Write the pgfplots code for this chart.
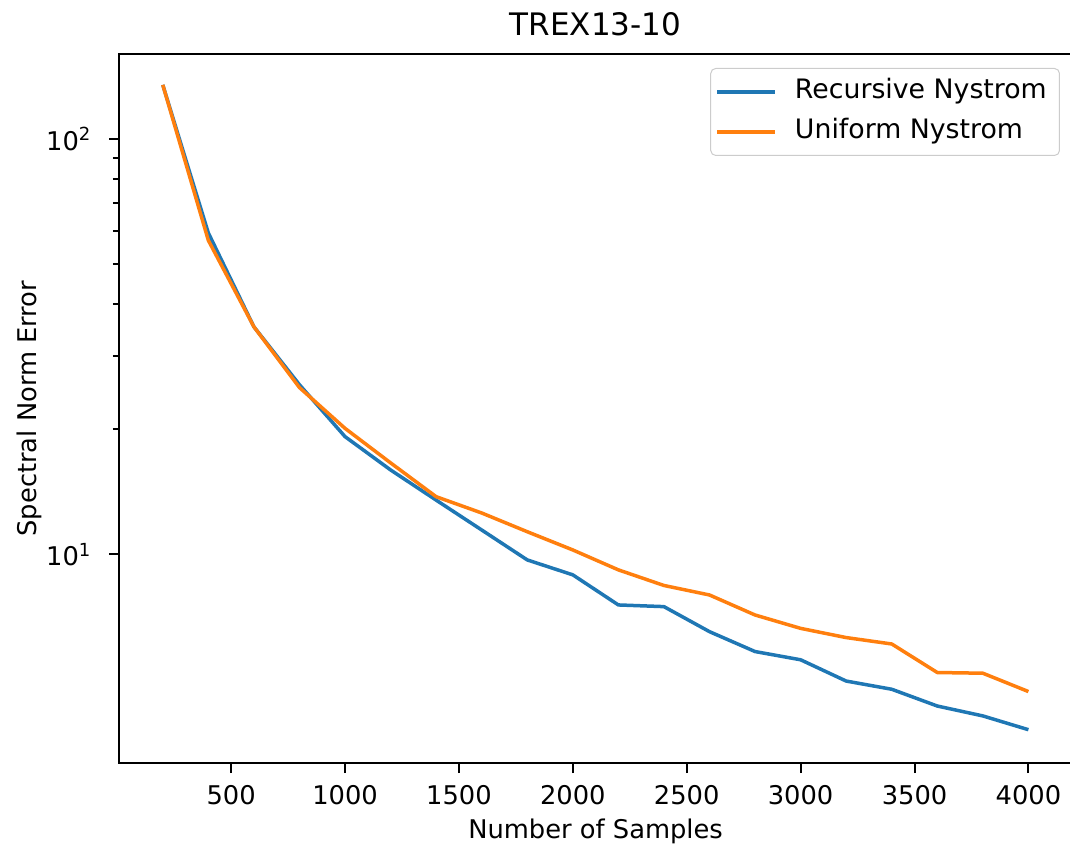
\documentclass[border=0pt]{standalone}
\usepackage{fontspec}
\setmainfont{DejaVu Sans}
\usepackage{pgfplots}
\usepackage{pgfplotstable}
\pgfplotsset{compat=1.18}

\definecolor{mplblue}{HTML}{1F77B4}
\definecolor{mplorange}{HTML}{FF7F0E}

% spectral norm error against number of landmark samples
\pgfplotstableread{
n     rec    uni
200   135    135
400   59.4   57.0
600   35.3   35.3
800   25.6   25.2
1000  19.2   20.1
1200  15.96  16.6
1400  13.5   13.76
1600  11.44  12.57
1800  9.69   11.33
2000  8.92   10.24
2200  7.55   9.17
2400  7.48   8.41
2600  6.51   7.98
2800  5.83   7.14
3000  5.57   6.63
3200  4.95   6.30
3400  4.73   6.08
3600  4.31   5.19
3800  4.08   5.17
4000  3.78   4.67
}\errtable

\begin{document}
\begin{tikzpicture}
\begin{axis}[
  scale only axis,
  width=380.9pt, height=283.7pt,
  ymode=log,
  xmin=10, xmax=4190,
  ymin=3.139, ymax=160.2,
  axis line style={line width=0.8pt},
  tick align=outside,
  xtick pos=bottom, ytick pos=left,
  major tick length=4pt, minor tick length=2.6pt,
  every tick/.style={black, line width=0.8pt},
  xtick={500,1000,...,4000},
  ytick={10,100},
  yticklabels={{10\textsuperscript{1}},{10\textsuperscript{2}}},
  /pgf/number format/assume math mode=true,
  /pgf/number format/1000 sep={},
  scaled x ticks=false,
  ticklabel style={font=\fontsize{10.3}{12.4}\selectfont},
  xticklabel style={yshift=-1.3pt},
  yticklabel style={xshift=-3.6pt},
  title={TREX13-10},
  every axis title/.style={at={(axis description cs:0.5,1.0254)}, anchor=base,
               font=\fontsize{12.4}{14.9}\selectfont, inner sep=0pt},
  xlabel={Number of Samples},
  xlabel style={at={(axis description cs:0.5,-0.1068)}, anchor=base,
                font=\fontsize{10.3}{12.4}\selectfont, inner sep=0pt},
  ylabel={Spectral Norm Error},
  ylabel style={at={(axis description cs:-0.0875,0.5)}, anchor=base, rotate=0,
                font=\fontsize{10.3}{12.4}\selectfont, inner sep=0pt},
  legend image code/.code={\draw[#1] (0pt,0pt) -- (23.2pt,0pt);},
  legend cell align=left,
  legend style={
    at={(0.9877,0.9803)}, anchor=north east,
    draw=black!20, rounded corners=2pt,
    fill=white, fill opacity=0.8, text opacity=1,
    font=\fontsize{10.7}{12.8}\selectfont,
    inner xsep=1.9pt, inner ysep=4.4pt,
    row sep=6pt, column sep=7.2pt,
    nodes={inner sep=0pt, text height=7.8pt, text depth=2.2pt},
  },
]
\addplot[color=mplblue, line width=1.4pt, line join=round] table[x=n, y=rec] {\errtable};
\addlegendentry{Recursive Nystrom\hspace*{3.2pt}}
\addplot[color=mplorange, line width=1.4pt, line join=round] table[x=n, y=uni] {\errtable};
\addlegendentry{Uniform Nystrom\hspace*{3.2pt}}

\coordinate (sw) at (rel axis cs:0,0);
\coordinate (ne) at (rel axis cs:1,1);
\end{axis}
\pgfresetboundingbox
\path ([shift={(-47.8pt,-34.68pt)}]sw) rectangle ([shift={(-0.68pt,21.6pt)}]ne);
\end{tikzpicture}
\end{document}
